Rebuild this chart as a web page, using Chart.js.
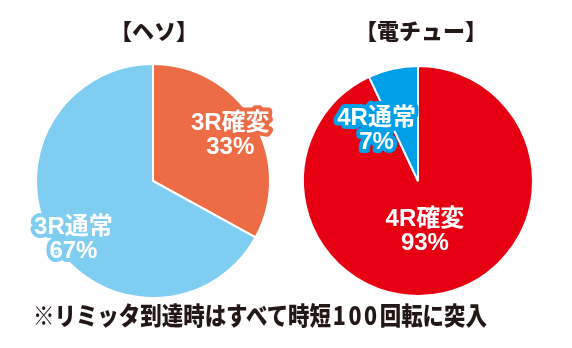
<!DOCTYPE html>
<html>
<head>
<meta charset="utf-8">
<script src="https://cdn.jsdelivr.net/npm/chart.js@4"></script>
<style>
  html, body { margin: 0; padding: 0; background: #fff; }
  #wrap { position: relative; width: 572px; height: 348px; overflow: hidden; font-family: 'Noto Sans CJK JP', sans-serif; }
  .cv { position: absolute; top: 0; width: 286px; height: 348px; }
  .title { position: absolute; top: 13px; font-weight: 900; font-size: 22px; color: #231815; white-space: nowrap; transform: translateX(-50%); line-height: 32px; }
  #note { position: absolute; top: 297px; left: 33px; font-weight: 900; font-size: 25px; color: #231815; white-space: nowrap; line-height: 34px; transform-origin: 0 0; }
  #note .d { letter-spacing: 3px; margin-left: 2px; }
</style>
</head>
<body>
<div id="wrap">
  <div class="cv" style="left:0"><canvas id="heso"></canvas></div>
  <div class="cv" style="left:286px"><canvas id="denchu"></canvas></div>
  <div class="title" id="t1" style="left:154px">【ヘソ】</div>
  <div class="title" id="t2" style="left:421px">【電チュー】</div>
  <div id="note">※リミッタ到達時はすべて時短<span class="d">100</span>回転に突入</div>
</div>
<script>
const hesoLabels = ['3R確変', '3R通常'];
const hesoValues = [33, 67];
const denchuLabels = ['4R確変', '4R通常'];
const denchuValues = [93, 7];

const hesoColors = ['#ed6c46', '#80cdf2'];
const denchuColors = ['#e60012', '#00a0e9'];

// where each slice label sits, in units of the radius from the centre
const hesoLabelPos = [[0.66, -0.39], [-0.68, 0.50]];
const denchuLabelPos = [[0.06, 0.44], [-0.36, -0.44]];

// fit the footnote to its width in the reference
const note = document.getElementById('note');
note.style.transform = 'scaleX(' + (454 / note.scrollWidth) + ')';

const sliceLabels = {
  id: 'sliceLabels',
  afterDatasetsDraw(chart, args, opts) {
    const ctx = chart.ctx;
    const meta = chart.getDatasetMeta(0);
    const ds = chart.data.datasets[0];
    meta.data.forEach((arc, i) => {
      const r = arc.outerRadius;
      const cx = arc.x + opts.pos[i][0] * r;
      const cy = arc.y + opts.pos[i][1] * r;
      const lines = [chart.data.labels[i], ds.data[i] + '%'];
      ctx.save();
      ctx.font = "bold 24px 'Liberation Sans', 'Noto Sans CJK JP', sans-serif";
      ctx.textAlign = 'center';
      ctx.textBaseline = 'middle';
      ctx.lineJoin = 'round';
      ctx.lineWidth = 8;
      ctx.strokeStyle = ds.backgroundColor[i];
      ctx.fillStyle = '#fff';
      lines.forEach((t, k) => {
        ctx.strokeText(t, cx, cy + (k - 0.5) * 24);
      });
      lines.forEach((t, k) => {
        ctx.fillText(t, cx, cy + (k - 0.5) * 24);
      });
      ctx.restore();
    });
  }
};

function makePie(id, labels, values, colors, pos, pad) {
  return new Chart(document.getElementById(id), {
    type: 'pie',
    data: {
      labels: labels,
      datasets: [{
        data: values,
        backgroundColor: colors,
        borderColor: '#fff',
        borderWidth: 2
      }]
    },
    options: {
      responsive: false,
      animation: false,
      layout: { padding: pad },
      plugins: {
        legend: { display: false },
        tooltip: { enabled: false },
        sliceLabels: { pos: pos }
      }
    },
    plugins: [sliceLabels]
  });
}

const c1 = document.getElementById('heso');
c1.width = 286; c1.height = 348;
const c2 = document.getElementById('denchu');
c2.width = 286; c2.height = 348;

makePie('heso', hesoLabels, hesoValues, hesoColors, hesoLabelPos,
  { left: 35, right: 15, top: 63, bottom: 49 });
makePie('denchu', denchuLabels, denchuValues, denchuColors, denchuLabelPos,
  { left: 16, right: 38, top: 65, bottom: 51 });
</script>
</body>
</html>
